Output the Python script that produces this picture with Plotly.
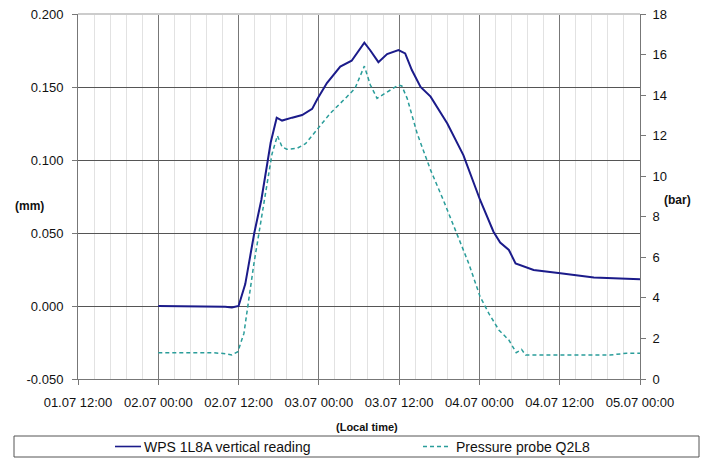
import pandas as pd
import plotly.graph_objects as go

# hours after 02.07 00:00
wps_h = [0, 4, 8, 10, 11, 12, 13, 14.35, 15.4, 16.8, 17.7, 18.5, 20, 21.5, 23, 23.8, 25.2, 27.2, 28.9, 30.8,
         31.7, 32.9, 34.2, 35.9, 36.9, 37.9, 39.2, 40.7, 43.2, 45.6, 48.1, 50.1, 51.1, 52.4, 53.4, 54.1,
         56.1, 60.1, 65.1, 72]
wps_mm = [0.000, 0.000, -0.0005, -0.0005, -0.001, 0.000, 0.015, 0.050, 0.0726, 0.112, 0.129, 0.127, 0.129,
          0.1308, 0.135, 0.142, 0.1527, 0.164, 0.168, 0.1803, 0.175, 0.167, 0.1726, 0.1753, 0.173, 0.1616,
          0.150, 0.1434, 0.125, 0.1034, 0.0726, 0.0509, 0.0434, 0.0384, 0.0292, 0.028, 0.0247, 0.0224,
          0.0196, 0.0183]

p_h = [0, 8, 10, 11, 11.9, 12.8, 14.3, 15.8, 17.0, 17.8, 18.5, 19.2, 20.7, 22, 24, 25.7, 28.2, 29.4, 30.8,
       31.7, 32.7, 34.2, 35.9, 36.4, 37.2, 38.7, 40.7, 42.6, 44.6, 46.4, 48.1, 49.4, 50.9, 52.4, 53.5,
       54.3, 54.9, 60.1, 67.5, 70, 72]
p_bar = [1.3, 1.3, 1.25, 1.18, 1.35, 2.25, 5.7, 8.8, 11.1, 12.0, 11.45, 11.33, 11.37, 11.6, 12.44, 13.1,
         13.92, 14.33, 15.43, 14.5, 13.84, 14.17, 14.5, 14.45, 13.84, 12.1, 10.3, 8.83, 7.18, 5.7, 4.06,
         3.24, 2.42, 1.92, 1.3, 1.46, 1.18, 1.18, 1.18, 1.27, 1.27]

series_names = ["WPS 1L8A vertical reading", "Pressure probe Q2L8"]

y_left_vals = [-0.05, 0.0, 0.05, 0.1, 0.15, 0.2]
y_left_text = ["-0.050", "0.000", "0.050", "0.100", "0.150", "0.200"]

start = pd.Timestamp("2024-07-02 00:00")
wps_t = [start + pd.Timedelta(hours=h) for h in wps_h]
p_t = [start + pd.Timedelta(hours=h) for h in p_h]

tick_text = ["01.07 12:00", "02.07 00:00", "02.07 12:00", "03.07 00:00", "03.07 12:00",
             "04.07 00:00", "04.07 12:00", "05.07 00:00"]
tick_vals = [pd.Timestamp("2024-07-01 12:00") + pd.Timedelta(hours=12 * i) for i in range(len(tick_text))]

FONT = "Liberation Sans, Arial, sans-serif"
C_WPS = "#1b1b8a"
C_P = "#2a9d9a"

fig = go.Figure()
fig.add_trace(go.Scatter(x=wps_t, y=wps_mm, mode="lines", name=series_names[0],
                         line=dict(color=C_WPS, width=2), yaxis="y"))
fig.add_trace(go.Scatter(x=p_t, y=p_bar, mode="lines", name=series_names[1],
                         line=dict(color=C_P, width=1.5, dash="4px,3px"), yaxis="y2"))

W = 562.0
H = 365.0
def px(x):
    return (x - 78) / W
def py(y):
    return (379 - y) / H

fig.update_layout(
    width=702, height=462,
    margin=dict(l=78, r=62, t=14, b=83, autoexpand=False),
    paper_bgcolor="white", plot_bgcolor="white",
    font=dict(family=FONT, size=13, color="#111"),
    showlegend=False,
    xaxis=dict(
        type="date", automargin=False,
        range=[pd.Timestamp("2024-07-01 12:00"), pd.Timestamp("2024-07-05 00:00")],
        tickvals=tick_vals, ticktext=tick_text,
        showgrid=True, gridcolor="#777777", gridwidth=1,
        minor=dict(dtick=8640000, tick0="2024-07-01 12:00", showgrid=True, gridcolor="#e2e2e2",
                   gridwidth=1, ticks=""),
        showline=True, linecolor="#777777", linewidth=1,
        ticks="outside", ticklen=5, tickcolor="#777777", ticklabelstandoff=6,
        tickfont=dict(size=13, family=FONT), zeroline=False,
    ),
    yaxis=dict(
        range=[-0.05, 0.2], tickvals=y_left_vals, ticktext=y_left_text, automargin=False,
        showgrid=True, gridcolor="#555555", gridwidth=1,
        showline=True, linecolor="#777777", linewidth=1,
        ticks="outside", ticklen=5, tickcolor="#777777", ticklabelstandoff=6,
        zeroline=False, tickfont=dict(size=13, family=FONT),
    ),
    yaxis2=dict(
        range=[0, 18], dtick=2, overlaying="y", side="right", automargin=False,
        showgrid=False, showline=True, linecolor="#777777", linewidth=1,
        ticks="outside", ticklen=5, tickcolor="#777777", ticklabelstandoff=4,
        zeroline=False, tickfont=dict(size=13, family=FONT),
    ),
    shapes=[
        dict(type="line", xref="paper", yref="paper", x0=0, x1=1, y0=1, y1=1,
             line=dict(color="#cccccc", width=2)),
        dict(type="rect", xref="paper", yref="paper", x0=px(14), x1=px(699), y0=py(457), y1=py(436),
             line=dict(color="#555555", width=1), fillcolor="rgba(0,0,0,0)", layer="below"),
        dict(type="line", xref="paper", yref="paper", x0=px(115), x1=px(141), y0=py(446.5), y1=py(446.5),
             line=dict(color=C_WPS, width=1.6)),
        dict(type="line", xref="paper", yref="paper", x0=px(423), x1=px(451), y0=py(446.5), y1=py(446.5),
             line=dict(color=C_P, width=1.4, dash="4px,3px")),
    ],
    annotations=[
        dict(text="<b>(mm)</b>", xref="paper", yref="paper", x=px(29), y=py(206), showarrow=False,
             xanchor="center", yanchor="middle", font=dict(size=12, family=FONT)),
        dict(text="<b>(bar)</b>", xref="paper", yref="paper", x=px(677), y=py(200), showarrow=False,
             xanchor="center", yanchor="middle", font=dict(size=12, family=FONT)),
        dict(text="<b>(Local time)</b>", xref="paper", yref="paper", x=px(367), y=py(427), showarrow=False,
             xanchor="center", yanchor="middle", font=dict(size=11, family=FONT)),
        dict(text=series_names[0], xref="paper", yref="paper", x=px(142), y=py(446.5), xanchor="left",
             yanchor="middle", showarrow=False, font=dict(size=14, family=FONT)),
        dict(text=series_names[1], xref="paper", yref="paper", x=px(454), y=py(446.5), xanchor="left",
             yanchor="middle", showarrow=False, font=dict(size=14, family=FONT)),
    ],
)

fig.write_html("out.html", config={"displayModeBar": False},
               post_script="document.body.style.margin='0';document.body.style.overflow='hidden';")
